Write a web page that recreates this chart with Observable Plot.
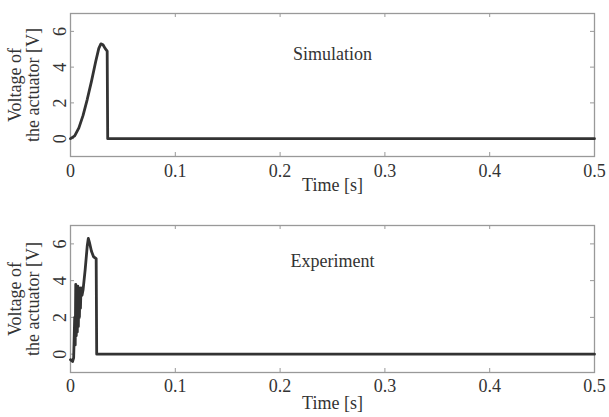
<!DOCTYPE html>
<html>
<head>
<meta charset="utf-8">
<script src="https://cdn.jsdelivr.net/npm/d3@7"></script>
<script src="https://cdn.jsdelivr.net/npm/@observablehq/plot@0.6"></script>
<style>
  body { margin: 0; background: #fff; }
  #chart svg { display: block; overflow: visible; }
</style>
</head>
<body>
<div id="chart"></div>
<script>
// Simulation series
const simTime = [0, 0.004, 0.008, 0.012, 0.016, 0.020, 0.024, 0.027, 0.029, 0.031, 0.033, 0.035, 0.0355, 0.5];
const simVolt = [0, 0.15, 0.6, 1.3, 2.2, 3.2, 4.3, 5.05, 5.3, 5.25, 5.05, 4.9, 0, 0];
// Experiment series
const expTime = [0, 0.002, 0.003, 0.004, 0.0045, 0.005, 0.0055, 0.006, 0.0065, 0.007, 0.0075, 0.008, 0.0085, 0.009, 0.0095, 0.010, 0.011, 0.012, 0.014, 0.016, 0.017, 0.018, 0.020, 0.022, 0.0245, 0.025, 0.5];
const expVolt = [-0.3, -0.4, -0.2, 2.0, 0.5, 3.8, 1.0, 3.5, 1.2, 3.7, 1.5, 3.6, 2.0, 3.5, 2.5, 3.6, 3.2, 3.5, 4.6, 5.9, 6.3, 6.1, 5.6, 5.3, 5.2, 0, 0];
// Axes
const xTicks = [0, 0.1, 0.2, 0.3, 0.4, 0.5];
const xTickLabels = ["0", "0.1", "0.2", "0.3", "0.4", "0.5"];
const yTicks = [0, 2, 4, 6];
const xDomain = [0, 0.5];
const yDomain = [-1, 7];
const panelTitles = ["Simulation", "Experiment"];
const xLabel = "Time [s]";
const yLabel = "Voltage of\nthe actuator [V]";

const font = "'Liberation Serif', 'Times New Roman', serif";
const ink = "#333";

function panel(times, volts, title, opts) {
  const data = times.map((t, i) => ({t, v: volts[i]}));
  const plotH = opts.height - opts.marginTop - opts.marginBottom;
  const plotW = 609 - 70 - 15;
  return Plot.plot({
    width: 609,
    height: opts.height,
    marginLeft: 70,
    marginRight: 15,
    marginTop: opts.marginTop,
    marginBottom: opts.marginBottom,
    style: {fontFamily: font, fontSize: "18px", color: ink, background: "#fff", overflow: "visible"},
    x: {domain: xDomain},
    y: {domain: yDomain, axis: null},
    marks: [
      Plot.frame({stroke: "#999", strokeWidth: 1.3}),
      Plot.tickX(xTicks, {x: d => d, insetTop: plotH - 4, stroke: "#999"}),
      Plot.tickX(xTicks, {x: d => d, insetBottom: plotH - 4, stroke: "#999"}),
      Plot.tickY(yTicks, {y: d => d, insetRight: plotW - 4, stroke: "#999"}),
      Plot.tickY(yTicks, {y: d => d, insetLeft: plotW - 4, stroke: "#999"}),
      Plot.axisX({ticks: xTicks, tickFormat: (d, i) => xTickLabels[i], tickSize: 0, tickPadding: opts.tickPad, label: xLabel, labelAnchor: "center", labelArrow: "none", labelOffset: opts.labelOffset, fontSize: 18}),
      Plot.text(yTicks, {y: d => d, text: d => String(d), frameAnchor: "left", textAnchor: "middle", rotate: -90, dx: -10, fontSize: 18, fill: ink}),
      Plot.text([yLabel], {frameAnchor: "left", textAnchor: "middle", rotate: -90, dx: -46, fontSize: 18, lineHeight: 1.0, fill: ink}),
      Plot.text([title], {frameAnchor: "top", dy: opts.titleDy, fontSize: 18, fill: ink}),
      Plot.line(data, {x: "t", y: "v", stroke: ink, strokeWidth: 2.8})
    ]
  });
}

const chart = document.getElementById("chart");
chart.append(panel(simTime, simVolt, panelTitles[0], {height: 208, marginTop: 13, marginBottom: 52, tickPad: 8, labelOffset: 34, titleDy: 34}));
chart.append(panel(expTime, expVolt, panelTitles[1], {height: 209, marginTop: 17, marginBottom: 45, tickPad: 7, labelOffset: 36, titleDy: 29}));
</script>
</body>
</html>
